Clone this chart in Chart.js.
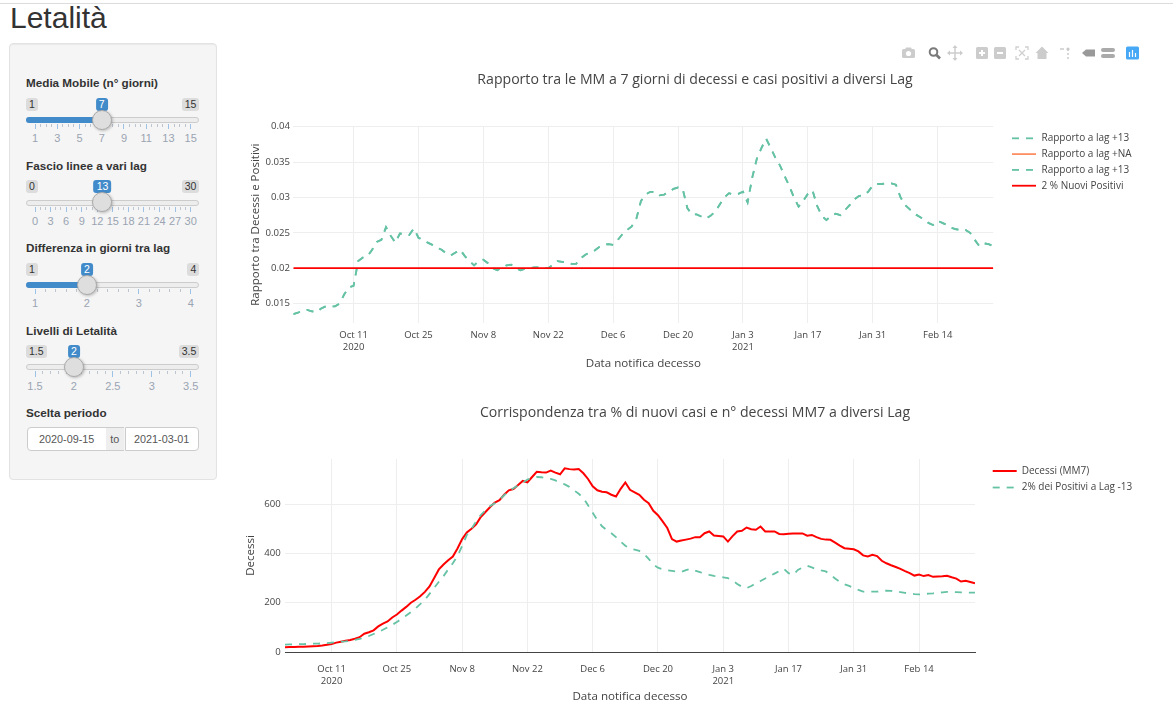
<!DOCTYPE html>
<html>
<head>
<meta charset="utf-8">
<title>Letalità</title>
<script src="https://cdn.jsdelivr.net/npm/chart.js@4.4.1/dist/chart.umd.min.js"></script>
<style>
html,body{margin:0;padding:0;background:#fff;width:1173px;height:711px;overflow:hidden;font-family:"Liberation Sans",Arial,Helvetica,sans-serif;color:#333;}
#topline{position:absolute;left:0;top:3px;width:1173px;height:1px;background:#dcdcdc;}
#pageTitle{position:absolute;left:10px;top:2.6px;font-size:30px;line-height:30px;font-weight:normal;margin:0;white-space:nowrap;}
#well{position:absolute;left:9px;top:43px;width:206px;height:435px;background:#f5f5f5;border:1px solid #e3e3e3;border-radius:4px;box-shadow:inset 0 1px 1px rgba(0,0,0,.05);}
.lbl{position:absolute;left:26px;font-weight:bold;font-size:11.7px;line-height:14px;white-space:nowrap;color:#333;}
.box{position:absolute;height:13px;line-height:13px;font-size:10.5px;padding:0 3px;border-radius:3px;background:rgba(0,0,0,0.1);color:#333;white-space:nowrap;}
.val{background:#428bca;color:#fff;transform:translateX(-50%);}
.track{position:absolute;left:26px;width:171px;height:4px;border:1px solid #cccccc;background:#ededed;border-radius:4px;}
.fill{position:absolute;left:26px;height:6px;background:#428bca;border-radius:4px 0 0 4px;}
.handle{position:absolute;width:18px;height:18px;border:1px solid #ababab;background:#dedede;border-radius:50%;box-shadow:1px 1px 3px rgba(0,0,0,0.25);}
.pol{position:absolute;width:1px;background:#9ec1e6;}
.pol.small{background:#bcc5d0;}
.gnum{position:absolute;font-size:11px;line-height:12px;color:#9aa4b2;transform:translateX(-50%);white-space:nowrap;}
.inp{position:absolute;top:426.7px;height:22px;border:1px solid #ccc;background:#fff;font-size:10.8px;line-height:22px;text-align:center;color:#555;box-sizing:content-box;}
canvas{position:absolute;}
#modebar{position:absolute;left:880px;top:43px;}
</style>
</head>
<body>
<div id="topline"></div>
<h2 id="pageTitle">Letalità</h2>
<div id="well"></div>
<div id="sidebar"></div>

<svg id="modebar" width="270" height="20" viewBox="0 0 270 20">
  <g fill="#cccccc"><rect x="22" y="6" width="13" height="9" rx="1.5"/><rect x="25.5" y="4.5" width="6" height="3" rx="1"/></g>
  <circle cx="28.5" cy="10.5" r="2.6" fill="#fff"/>
  <g stroke="#7a7a7a" fill="none"><circle cx="53.5" cy="9" r="3.8" stroke-width="2"/><line x1="56.5" y1="12" x2="60" y2="15.5" stroke-width="2.6"/></g>
  <g stroke="#cccccc" stroke-width="1.5" fill="#cccccc"><line x1="75" y1="3.5" x2="75" y2="16.5"/><line x1="68.5" y1="10" x2="81.5" y2="10"/></g>
  <g fill="#cccccc"><polygon points="75,2 72.5,5 77.5,5"/><polygon points="75,18 72.5,15 77.5,15"/><polygon points="67,10 70,7.5 70,12.5"/><polygon points="83,10 80,7.5 80,12.5"/></g>
  <rect x="96" y="4" width="12" height="12" rx="1.5" fill="#cccccc"/><g stroke="#fff" stroke-width="2"><line x1="99" y1="10" x2="105" y2="10"/><line x1="102" y1="7" x2="102" y2="13"/></g>
  <rect x="114" y="4" width="12" height="12" rx="1.5" fill="#cccccc"/><line x1="117" y1="10" x2="123" y2="10" stroke="#fff" stroke-width="2"/>
  <g stroke="#d0d0d0" stroke-width="1.3" fill="none"><path d="M136 7V4h3M145 4h3v3M148 13v3h-3M139 16h-3v-3"/><path d="M139 7l6 6M145 7l-6 6"/></g>
  <polygon points="162,3.5 155.5,10 157.5,10 157.5,16 166.5,16 166.5,10 168.5,10" fill="#cccccc"/>
  <g stroke="#c8c8c8" stroke-width="1.4"><line x1="180" y1="6" x2="184" y2="6"/><line x1="188" y1="5" x2="188" y2="8"/><line x1="188" y1="10" x2="188" y2="12"/><line x1="188" y1="14" x2="188" y2="16"/></g><circle cx="188" cy="6" r="1.6" fill="#c8c8c8"/>
  <polygon points="202,10 206,6.5 215,6.5 215,13.5 206,13.5" fill="#999"/>
  <rect x="221" y="5" width="14" height="4" rx="2" fill="#aaa"/><rect x="221" y="11" width="14" height="4" rx="2" fill="#aaa"/>
  <rect x="246" y="3.5" width="13" height="13" rx="1.5" fill="#47a8f5"/>
  <g stroke="#fff" stroke-width="1.2"><line x1="249.5" y1="9" x2="249.5" y2="14"/><line x1="252.5" y1="7" x2="252.5" y2="14"/><line x1="255.5" y1="10" x2="255.5" y2="14"/></g>
</svg>

<canvas id="c1" width="934" height="320" style="left:228px;top:60px;"></canvas>
<canvas id="c2" width="934" height="331" style="left:228px;top:380px;"></canvas>

<script>
// ---------------- DATA ----------------
// Day index reference: 2020-10-11
const startRapporto = '2020-09-28';   // first date of the ratio series (chart 1)
const startDecessi  = '2020-10-01';   // first date of the deaths series (chart 2)

// Chart 1: ratio between 7-day MA of deaths and positives, lag +13
const rapportoLag13 = [
 0.0135,0.0137,0.0140,0.0141,0.0139,0.0138,0.0143,0.0146,0.0146,0.0146,
 0.0150,0.0163,0.0173,0.0175,0.0210,0.0215,0.0217,0.0226,0.0237,0.0240,
 0.0258,0.0246,0.0236,0.0249,0.0248,0.0247,0.0256,0.0243,0.0240,0.0236,
 0.0233,0.0229,0.0226,0.0221,0.0218,0.0222,0.0226,0.0217,0.0210,0.0204,
 0.0210,0.0212,0.0207,0.0200,0.0197,0.0201,0.0204,0.0205,0.0200,0.0197,
 0.0199,0.0200,0.0201,0.0201,0.0200,0.0200,0.0205,0.0210,0.0209,0.0208,
 0.0206,0.0206,0.0214,0.0219,0.0222,0.0225,0.0230,0.0233,0.0234,0.0233,
 0.0240,0.0248,0.0254,0.0259,0.0270,0.0295,0.0304,0.0308,0.0308,0.0303,
 0.0304,0.0308,0.0312,0.0314,0.0312,0.0285,0.0276,0.0276,0.0273,0.0270,
 0.0274,0.0280,0.0290,0.0300,0.0306,0.0304,0.0305,0.0308,0.0293,0.0328,
 0.0355,0.0370,0.0383,0.0370,0.0356,0.0345,0.0330,0.0316,0.0300,0.0287,
 0.0295,0.0305,0.0310,0.0288,0.0274,0.0268,0.0274,0.0277,0.0275,0.0282,
 0.0289,0.0297,0.0302,0.0303,0.0308,0.0317,0.0319,0.0319,0.0320,0.0320,
 0.0318,0.0300,0.0289,0.0283,0.0277,0.0273,0.0269,0.0264,0.0261,0.0267,
 0.0264,0.0261,0.0257,0.0255,0.0254,0.0254,0.0250,0.0240,0.0231,0.0235,
 0.0234,0.0231
];
const rapportoLagNA = [];           // "+NA" series: no values
const livelloLetalita = 2;          // % (slider "Livelli di Letalità")

// Chart 2: deaths (7-day MA) and 2% of positives at lag -13
const decessiMM7 = [
 19,20,20,21,21,22,23,24,26,29,
 32,38,42,46,49,54,60,74,80,88,
 104,115,124,140,152,168,183,200,212,226,
 244,266,300,335,355,372,387,420,458,485,
 500,518,548,568,588,606,616,638,656,661,
 678,694,688,710,731,729,728,736,728,721,
 745,742,740,742,725,702,672,656,650,648,
 638,631,662,688,658,648,638,618,604,573,
 555,530,503,458,448,452,456,460,466,466,
 482,489,473,471,469,448,470,489,492,505,
 498,496,509,489,489,489,479,478,480,481,
 481,481,472,475,466,459,456,455,444,432,
 421,419,417,408,392,388,394,389,370,360,
 352,345,337,328,320,310,314,308,312,305,
 306,307,309,303,298,286,289,284,279
];
const positivi2pctLagM13 = [
 30,31,31,32,32,33,34,34,35,36,
 38,40,42,43,45,49,53,58,65,73,
 81,90,100,110,122,134,148,162,177,194,
 212,236,260,285,308,335,360,390,430,475,
 500,530,556,575,592,604,618,636,652,664,
 676,686,700,706,710,709,705,702,696,688,
 680,670,656,642,625,595,565,535,510,495,
 482,466,448,431,420,415,410,398,378,355,
 342,336,332,329,326,325,332,338,330,324,
 318,313,309,306,303,300,290,276,265,259,
 268,278,288,298,308,318,328,338,320,313,
 333,343,350,343,336,331,327,313,298,285,
 275,268,260,252,245,245,245,245,247,249,
 248,246,243,240,237,235,234,235,237,238,
 240,242,244,244,243,242,242,241,241
];

// Axis ticks
const xTickDates  = ['2020-10-11','2020-10-25','2020-11-08','2020-11-22','2020-12-06','2020-12-20','2021-01-03','2021-01-17','2021-01-31','2021-02-14'];
const xTickLabels = [['Oct 11','2020'],'Oct 25','Nov 8','Nov 22','Dec 6','Dec 20',['Jan 3','2021'],'Jan 17','Jan 31','Feb 14'];
const yTicks1 = [0.015,0.02,0.025,0.03,0.035,0.04];
const yTicks2 = [0,200,400,600];

// Sidebar inputs
const sliders = [
  {label:'Media Mobile (n° giorni)', min:1, max:15, value:7, grid:[1,3,5,7,9,11,13,15], minor:3, fill:true, y:83.3},
  {label:'Fascio linee a vari lag', min:0, max:30, value:13, grid:[0,3,6,9,12,15,18,21,24,27,30], minor:2, fill:false, y:166},
  {label:'Differenza in giorni tra lag', min:1, max:4, value:2, grid:[1,2,3,4], minor:4, fill:true, y:248.3},
  {label:'Livelli di Letalità', min:1.5, max:3.5, value:2, grid:[1.5,2,2.5,3,3.5], minor:4, fill:false, y:330.7}
];
const periodo = ['2020-09-15','2021-03-01'];

// ---------------- SIDEBAR ----------------
const sb = document.getElementById('sidebar');
function el(cls, style, text){
  const e = document.createElement('div');
  e.className = cls;
  for (const k in style) e.style[k] = style[k];
  if (text != null) e.textContent = text;
  sb.appendChild(e);
  return e;
}
const gx0 = 35, gx1 = 190.7;
sliders.forEach(s => {
  const L = s.y;
  const pos = v => gx0 + (v - s.min) / (s.max - s.min) * (gx1 - gx0);
  const hx = pos(s.value);
  el('lbl', {top:(L-7)+'px'}, s.label);
  el('box', {left:'26px', top:(L+14.3)+'px'}, String(s.min));
  el('box', {right:(1173-199.3)+'px', top:(L+14.3)+'px'}, String(s.max));
  el('track', {top:(L+33.7)+'px'});
  if (s.fill) el('fill', {top:(L+33.7)+'px', width:(hx-26)+'px'});
  for (let i=0;i<s.grid.length;i++){
    const x = pos(s.grid[i]);
    el('pol', {left:(x-0.5)+'px', top:(L+40.5)+'px', height:'5.5px'});
    el('gnum', {left:x+'px', top:(L+48.8)+'px'}, String(s.grid[i]));
    if (i < s.grid.length-1){
      const x2 = pos(s.grid[i+1]);
      for (let k=1;k<=s.minor;k++){
        const xm = x + (x2-x)*k/(s.minor+1);
        el('pol small', {left:(xm-0.5)+'px', top:(L+40.5)+'px', height:'3px'});
      }
    }
  }
  el('box val', {left:hx+'px', top:(L+14.3)+'px'}, String(s.value));
  el('handle', {left:(hx-10)+'px', top:(L+36.4-10)+'px'});
});
el('lbl', {top:(413.3-7)+'px'}, 'Scelta periodo');
el('inp', {left:'26.7px', width:'78px', borderRadius:'4px 0 0 4px'}, periodo[0]);
el('inp', {left:'105.7px', width:'18px', background:'#eeeeee', borderLeft:'none', borderRight:'none'}, 'to');
el('inp', {left:'124.7px', width:'72px', borderRadius:'0 4px 4px 0'}, periodo[1]);

// ---------------- CHARTS ----------------
const REF = Date.UTC(2020, 9, 11);
function dayNum(s){ const p = s.split('-').map(Number); return (Date.UTC(p[0], p[1]-1, p[2]) - REF) / 864e5; }
function series(start, vals){ const s = dayNum(start); return vals.map((v,i) => ({x:s+i, y:v})); }
const xTickVals = xTickDates.map(dayNum);

Chart.defaults.font.family = '"Open Sans", verdana, arial, sans-serif';
Chart.defaults.color = '#444';

const plotlyLegend = {
  id: 'plotlyLegend',
  afterDraw(chart, args, opts){
    const ctx = chart.ctx, ca = chart.chartArea;
    ctx.save();
    ctx.font = opts.fontSize + 'px "Open Sans", verdana, arial, sans-serif';
    ctx.textBaseline = 'middle';
    ctx.textAlign = 'left';
    chart.data.datasets.forEach((ds, i) => {
      const x = ca.right + opts.dx, y = ca.top + opts.dy + i * opts.rowH;
      ctx.beginPath();
      ctx.strokeStyle = ds.borderColor;
      ctx.lineWidth = ds.borderWidth;
      ctx.setLineDash(ds.borderDash || []);
      ctx.moveTo(x, y); ctx.lineTo(x + 24, y); ctx.stroke();
      ctx.setLineDash([]);
      ctx.fillStyle = '#444';
      ctx.fillText(ds.label, x + opts.textDx, y);
    });
    ctx.restore();
  }
};

function xScale(min, max, tickPad, titleBottom, height, borderShow){
  return {
    type:'linear', min:min, max:max,
    afterBuildTicks: a => { a.ticks = xTickVals.map(v => ({value:v})); },
    afterFit: a => { a.height = height; },
    grid:{color:'#eeeeee', lineWidth:1, drawTicks:false},
    border:{display:borderShow, color:'#444', width:1},
    ticks:{autoSkip:false, maxRotation:0, padding:tickPad, color:'#444',
           font:{size:9.5, lineHeight:1.25},
           callback:(v,i) => xTickLabels[i]},
    title:{display:true, text:'Data notifica decesso', color:'#444',
           font:{size:11.6, lineHeight:1.2}, padding:{top:0, bottom:titleBottom}}
  };
}
function dummyRight(w){
  return {position:'right', display:true, grid:{display:false}, border:{display:false},
          ticks:{display:false}, afterFit: a => { a.width = w; }};
}

const x1min = dayNum(startRapporto), x1max = x1min + rapportoLag13.length - 1;
const soglia = livelloLetalita / 100;

new Chart(document.getElementById('c1'), {
  type:'line',
  data:{datasets:[
    {label:'Rapporto a lag +13', data:series(startRapporto, rapportoLag13), borderColor:'#66c2a5', borderWidth:1.8, borderDash:[7,7], order:3},
    {label:'Rapporto a lag +NA', data:series(startRapporto, rapportoLagNA), borderColor:'#fc8d62', borderWidth:1.8, order:2},
    {label:'Rapporto a lag +13', data:series(startRapporto, rapportoLag13), borderColor:'#66c2a5', borderWidth:1.8, borderDash:[7,7], order:1},
    {label:'2 % Nuovi Positivi', data:[{x:x1min, y:soglia},{x:x1max, y:soglia}], borderColor:'#ff0000', borderWidth:1.8, order:0}
  ]},
  options:{
    responsive:false, animation:false, devicePixelRatio:1,
    parsing:false, normalized:true,
    elements:{point:{radius:0}, line:{tension:0, fill:false}},
    layout:{padding:0},
    plugins:{
      legend:{display:false}, tooltip:{enabled:false},
      title:{display:true, text:'Rapporto tra le MM a 7 giorni di decessi e casi positivi a diversi Lag',
             color:'#444', font:{size:14.1, weight:'normal', lineHeight:1.2}, padding:{top:11.5, bottom:37.6}},
      plotlyLegend:{dx:18.7, dy:12.3, rowH:15.8, textDx:29.5, fontSize:10}
    },
    scales:{
      x: xScale(x1min, x1max, 6.5, 9.1, 56.7, false),
      y: {type:'linear', min:0.0122, max:0.0401,
          afterBuildTicks: a => { a.ticks = yTicks1.map(v => ({value:v})); },
          afterFit: a => { a.width = 65.3; },
          grid:{color:'#eeeeee', drawTicks:false}, border:{display:false},
          ticks:{padding:3.3, color:'#444', font:{size:9.6}, callback: v => String(+v.toFixed(4))},
          title:{display:true, text:'Rapporto tra Decessi e Positivi', color:'#444', font:{size:11.5, lineHeight:1.2}, padding:{top:20.4, bottom:0}}},
      yR: dummyRight(168.7)
    }
  },
  plugins:[plotlyLegend]
});

const x2min = dayNum(startDecessi), x2max = x2min + decessiMM7.length - 1;
new Chart(document.getElementById('c2'), {
  type:'line',
  data:{datasets:[
    {label:'Decessi (MM7)', data:series(startDecessi, decessiMM7), borderColor:'#ff0000', borderWidth:2, order:1},
    {label:'2% dei Positivi a Lag -13', data:series(startDecessi, positivi2pctLagM13), borderColor:'#66c2a5', borderWidth:1.8, borderDash:[7,7], order:0}
  ]},
  options:{
    responsive:false, animation:false, devicePixelRatio:1,
    parsing:false, normalized:true,
    elements:{point:{radius:0}, line:{tension:0, fill:false}},
    layout:{padding:0},
    plugins:{
      legend:{display:false}, tooltip:{enabled:false},
      title:{display:true, text:'Corrispondenza tra % di nuovi casi e n° decessi MM7 a diversi Lag',
             color:'#444', font:{size:14.1, weight:'normal', lineHeight:1.2}, padding:{top:24.8, bottom:37.3}},
      plotlyLegend:{dx:17.7, dy:12, rowH:16.5, textDx:29, fontSize:10}
    },
    scales:{
      x: xScale(x2min, x2max, 11, 7.4, 59, true),
      y: {type:'linear', min:0, max:783,
          afterBuildTicks: a => { a.ticks = yTicks2.map(v => ({value:v})); },
          afterFit: a => { a.width = 57; },
          grid:{color: c => (c.tick && c.tick.value === 0) ? '#444' : '#eeeeee', drawTicks:false}, border:{display:false},
          ticks:{padding:4.3, color:'#444', font:{size:9.6}},
          title:{display:true, text:'Decessi', color:'#444', font:{size:11.5, lineHeight:1.2}, padding:{top:15.6, bottom:0}}},
      yR: dummyRight(187)
    }
  },
  plugins:[plotlyLegend]
});
</script>
</body>
</html>
